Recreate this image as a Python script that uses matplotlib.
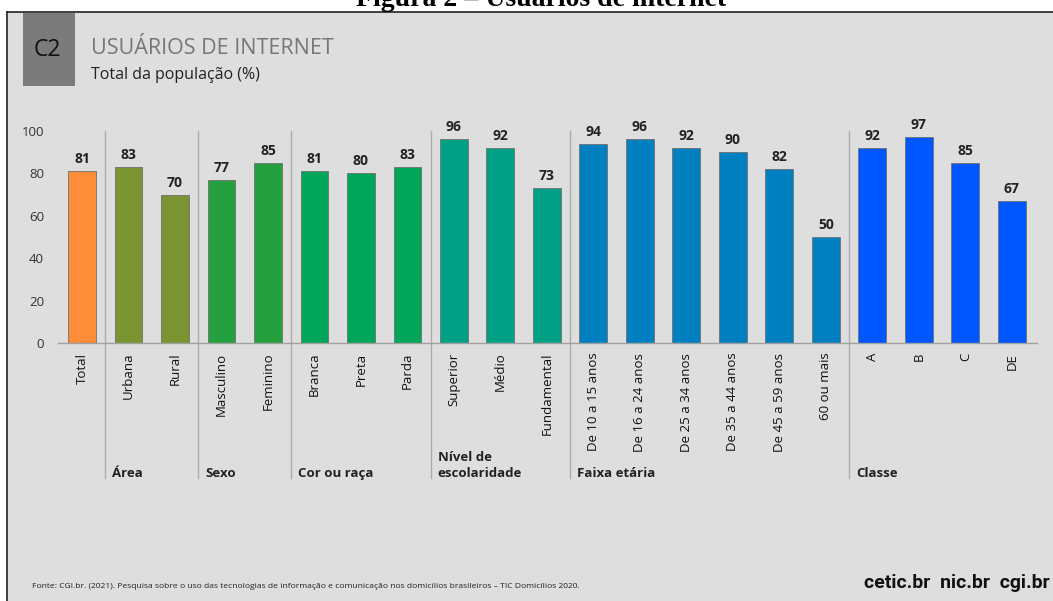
import matplotlib
matplotlib.use("Agg")
import matplotlib.pyplot as plt
from matplotlib.patches import Rectangle
from matplotlib.lines import Line2D

plt.rcParams['font.family'] = ['Open Sans', 'DejaVu Sans']

# categorias, valores (%) e grupo de cada barra
categorias = ['Total', 'Urbana', 'Rural', 'Masculino', 'Feminino',
              'Branca', 'Preta', 'Parda', 'Superior', 'Médio', 'Fundamental',
              'De 10 a 15 anos', 'De 16 a 24 anos', 'De 25 a 34 anos',
              'De 35 a 44 anos', 'De 45 a 59 anos', '60 ou mais',
              'A', 'B', 'C', 'DE']
valores = [81, 83, 70, 77, 85, 81, 80, 83, 96, 92, 73,
           94, 96, 92, 90, 82, 50, 92, 97, 85, 67]
grupo_barra = [0, 1, 1, 2, 2, 3, 3, 3, 4, 4, 4,
               5, 5, 5, 5, 5, 5, 6, 6, 6, 6]

grupos = ['', 'Área', 'Sexo', 'Cor ou raça', 'Nível de\nescolaridade',
          'Faixa etária', 'Classe']
cores = ['#ff8c38', '#7a9432', '#24a03e', '#00a65a', '#00a084',
         '#0080c0', '#0057ff']

W, H = 1053, 601
BG = '#dedede'


def fx(px):
    return px / W


def fy(py):
    return 1 - py / H


fig = plt.figure(figsize=(W / 100, H / 100), dpi=100, facecolor='white')

# fundo cinza com moldura à esquerda e no topo
fig.add_artist(Rectangle((fx(7), 0), 1 - fx(7), fy(12), transform=fig.transFigure,
                         facecolor=BG, edgecolor='none', zorder=0))
fig.add_artist(Line2D([fx(7), fx(7)], [0, fy(12)], transform=fig.transFigure,
                      color='#222222', lw=1.2))
fig.add_artist(Line2D([fx(7), 1], [fy(12), fy(12)], transform=fig.transFigure,
                      color='#222222', lw=1.2))

# legenda da figura (cortada no topo da página)
fig.text(fx(541), fy(6), 'Figura 2 – Usuários de internet', ha='center', va='baseline',
         family='Liberation Serif', fontweight='bold', fontsize=20, color='black')

# caixa C2 e títulos
fig.add_artist(Rectangle((fx(23), fy(86)), fx(75) - fx(23), fy(13) - fy(86),
                         transform=fig.transFigure, facecolor='#7b7b7b',
                         edgecolor='none'))
fig.text(fx(47), fy(50), 'C2', ha='center', va='center', fontsize=16.5, color='#111111')
fig.text(fx(91), fy(48), 'USUÁRIOS DE INTERNET', ha='left', va='center',
         fontsize=15.5, color='#777777')
fig.text(fx(91), fy(75), 'Total da população (%)', ha='left', va='center',
         fontsize=11.5, color='#222222')

# área do gráfico
y0, y100 = 343, 131
ax = fig.add_axes([fx(58), fy(y0), fx(1037) - fx(58), fy(y100) - fy(y0)])
ax.set_facecolor('none')
ax.set_xlim(-0.516, 20.54)
ax.set_ylim(0, 100)
u = 100 / (y0 - y100)  # unidades por pixel

x = list(range(len(valores)))
ax.bar(x, valores, width=0.6, color=[cores[g] for g in grupo_barra],
       edgecolor='#707070', linewidth=0.6, zorder=2)

for xi, v in zip(x, valores):
    ax.text(xi, v + 5 * u, str(v), ha='center', va='bottom', fontsize=10,
            fontweight='bold', color='#222222', clip_on=False)

for s in ['top', 'right', 'left']:
    ax.spines[s].set_visible(False)
ax.spines['bottom'].set_color('#a0a0a0')
ax.spines['bottom'].set_linewidth(1.0)

ax.set_yticks([0, 20, 40, 60, 80, 100])
ax.tick_params(axis='y', length=0, pad=10, labelsize=9.5, labelcolor='#333333')
ax.set_xticks(x)
ax.set_xticklabels(categorias, rotation=90, fontsize=9.5, color='#111111')
ax.tick_params(axis='x', length=0, pad=7)

# divisórias e nomes dos grupos
y_fim = -(478 - y0) * u
for gi in range(1, len(grupos)):
    primeira = grupo_barra.index(gi)
    sep = primeira - 0.5
    ax.plot([sep, sep], [100, y_fim], color='#ababab', lw=1, clip_on=False, zorder=1)
    ax.text(sep + 7 / 46.5, -(480 - y0) * u, grupos[gi], ha='left', va='bottom',
            fontsize=9.5, fontweight='bold', color='#222222', clip_on=False,
            linespacing=1.3)

# fonte e logos
fig.text(fx(32), fy(586), 'Fonte: CGI.br. (2021). Pesquisa sobre o uso das tecnologias de '
         'informação e comunicação nos domicílios brasileiros – TIC Domicílios 2020.',
         ha='left', va='center', fontsize=6.1, color='#222222')
fig.text(fx(1050), fy(583), 'cetic.br  nic.br  cgi.br', ha='right', va='center',
         family=['Roboto', 'DejaVu Sans'], fontweight='bold',
         fontsize=14, color='#111111')

fig.savefig('out.png', dpi=100, facecolor='white')
